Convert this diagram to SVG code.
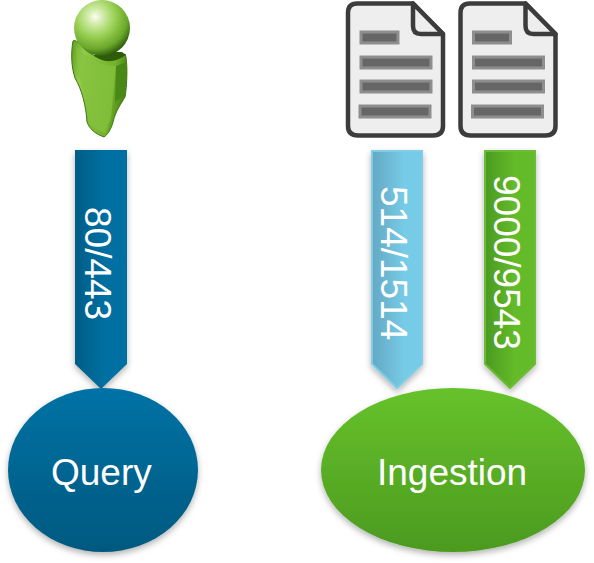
<svg xmlns="http://www.w3.org/2000/svg" width="594" height="563" viewBox="0 0 594 563">
<defs>
<linearGradient id="ab" x1="0" x2="1" y1="0" y2="0"><stop offset="0" stop-color="#045d87"/><stop offset="0.6" stop-color="#0470a2"/><stop offset="1" stop-color="#0470a2"/></linearGradient>
<linearGradient id="al" x1="0" x2="1" y1="0" y2="0"><stop offset="0" stop-color="#64a8c4"/><stop offset="0.65" stop-color="#76cbe6"/><stop offset="1" stop-color="#76cbe6"/></linearGradient>
<linearGradient id="ag" x1="0" x2="1" y1="0" y2="0"><stop offset="0" stop-color="#4a9a20"/><stop offset="0.6" stop-color="#64bb2a"/><stop offset="1" stop-color="#64bb2a"/></linearGradient>
<linearGradient id="eb" x1="0" x2="0" y1="0" y2="1"><stop offset="0" stop-color="#0472a5"/><stop offset="1" stop-color="#03597f"/></linearGradient>
<linearGradient id="eg" x1="0" x2="0" y1="0" y2="1"><stop offset="0" stop-color="#66c22b"/><stop offset="1" stop-color="#4c9a1f"/></linearGradient>
<radialGradient id="head" cx="0.38" cy="0.3" r="0.72"><stop offset="0" stop-color="#fbfef5"/><stop offset="0.2" stop-color="#d0eba6"/><stop offset="0.5" stop-color="#97cf52"/><stop offset="0.8" stop-color="#6aa72a"/><stop offset="1" stop-color="#2f5c0c"/></radialGradient>
<linearGradient id="body" x1="0" x2="1" y1="0" y2="0.25"><stop offset="0" stop-color="#5d9c1c"/><stop offset="0.22" stop-color="#93cb4c"/><stop offset="0.5" stop-color="#7fbe36"/><stop offset="0.8" stop-color="#74b22d"/><stop offset="1" stop-color="#4d8a16"/></linearGradient>
<filter id="sh" x="-20%" y="-20%" width="140%" height="140%"><feDropShadow dx="0" dy="3" stdDeviation="3" flood-color="#000" flood-opacity="0.3"/></filter>
<filter id="soft" x="-10%" y="-10%" width="120%" height="120%"><feGaussianBlur stdDeviation="0.7"/></filter>
<path id="doc" d="M357 3.500H413L443 34V126Q443 135.500 433 135.500H358Q348 135.500 348 126V13Q348 3.500 357 3.500Z"/>
</defs>
<style>
text{font-family:"Liberation Sans",Arial,sans-serif;font-size:37px;fill:#fff}
.page{fill:#eeeeee;stroke:#3c3c3c;stroke-width:4.500;stroke-linejoin:round}
.fold{fill:#eeeeee;stroke:#3c3c3c;stroke-width:4.500;stroke-linejoin:round}
.bar{fill:#666;stroke:#8e8e8e;stroke-width:3}
</style>
<g id="user">
<g filter="url(#soft)">
<path d="M73 41C76 39 80 44 84 48C96 60 112 62 125 54C128 60 127 88 125 97C121 104 116 110 113 122C111 130 107 135 104 137C96 134 90 130 87 122C86 106 82 90 75 78C71 66 71 52 73 41Z" fill="url(#body)" stroke="#3f7410" stroke-width="1"/>
<path d="M76 46C90 62 104 66 116 66L111 118L105 133C96 130 92 126 89 120C88 104 84 88 78 74Z" fill="#86c23e" opacity="0.7"/>
<path d="M116 66L127 62C127 75 126 88 124 95L115 102Z" fill="#4a8718"/>
<path d="M94 56C106 64 116 62 126 55L122 52L98 52Z" fill="#2f5c0c"/>
</g>
<circle cx="102" cy="28" r="28" fill="url(#head)"/>
</g>
<g id="doc1">
<use href="#doc" class="page"/>
<path d="M413 3.500V26Q413 34 421 34H443Z" class="fold"/>
<rect x="361" y="32" width="37" height="11" class="bar"/>
<rect x="361" y="57" width="70" height="11" class="bar"/>
<rect x="361" y="81" width="70" height="11" class="bar"/>
<rect x="360" y="106" width="70" height="11" class="bar"/>
</g>
<g id="doc2">
<use href="#doc" x="112.500" class="page"/>
<path d="M525.500 3.500V26Q525.500 34 533.500 34H555.500Z" class="fold"/>
<rect x="473.500" y="32" width="37" height="11" class="bar"/>
<rect x="473.500" y="57" width="70" height="11" class="bar"/>
<rect x="473.500" y="81" width="70" height="11" class="bar"/>
<rect x="472.500" y="106" width="70" height="11" class="bar"/>
</g>
<g id="connectors">
<g id="arrow-query">
<path d="M75 150H127V364L101 389L75 364Z" fill="url(#ab)" filter="url(#sh)"/>
<text transform="translate(85 207) rotate(90)">80/443</text>
</g>
<g id="arrow-514">
<path d="M372 151H422V364L397 388L372 364Z" fill="url(#al)" stroke="#80cde6" stroke-width="2" filter="url(#sh)"/>
<text transform="translate(381 186) rotate(90)">514/1514</text>
</g>
<g id="arrow-9000">
<path d="M485 151H535V364L510 388L485 364Z" fill="url(#ag)" stroke="#6cbb38" stroke-width="2" filter="url(#sh)"/>
<text transform="translate(494 175) rotate(90)">9000/9543</text>
</g>
</g>
<g id="query">
<ellipse cx="103" cy="470" rx="95" ry="82" fill="url(#eb)" filter="url(#sh)"/>
<text x="51" y="485">Query</text>
</g>
<g id="ingestion">
<ellipse cx="453" cy="470" rx="132" ry="82" fill="url(#eg)" filter="url(#sh)"/>
<text x="377" y="485">Ingestion</text>
</g>
</svg>
